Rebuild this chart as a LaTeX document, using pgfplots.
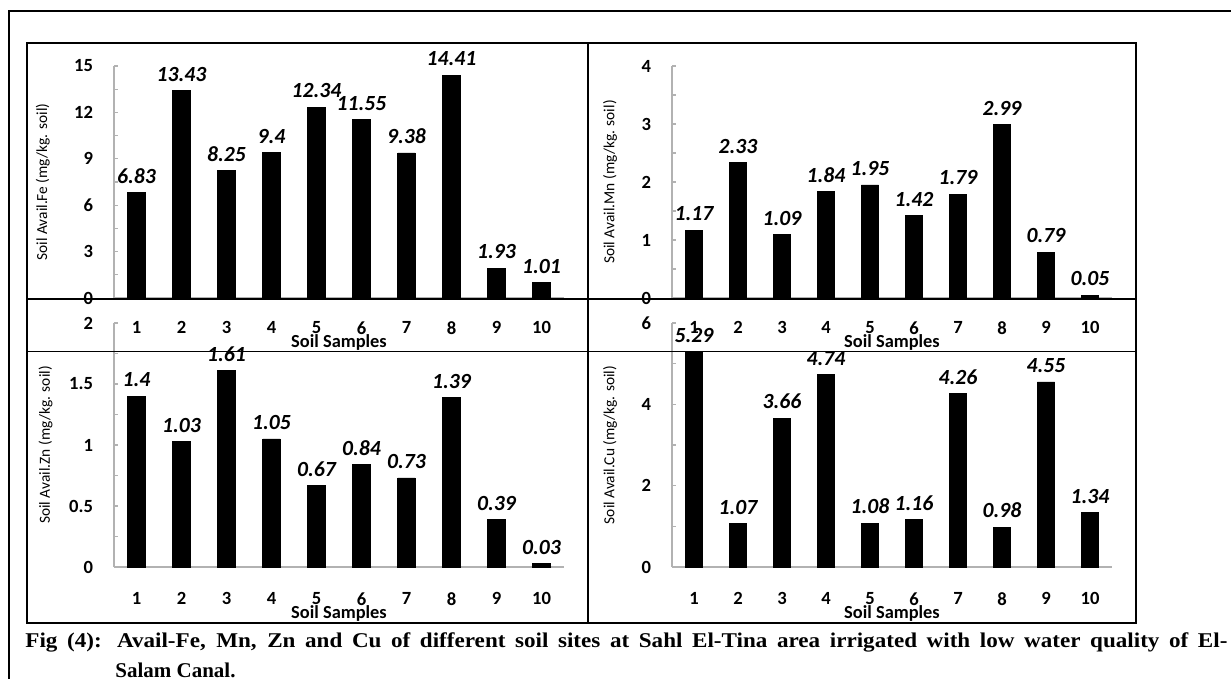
\documentclass[border=0pt]{standalone}
\usepackage{pgfplots}
\pgfplotsset{compat=1.18}
\usepackage{fontspec}
\setmainfont{Carlito}
\newfontfamily\capfont{Liberation Serif}

\pgfplotsset{
  panel/.style={
    scale only axis, clip=false,
    xmin=0.5, xmax=10.5,
    axis x line*=bottom, axis y line*=left,
    axis line style={draw=gray!60, line width=0.6pt},
    xtick={1,...,10}, xtick style={draw=none},
    minor y tick num=1,
    ytick style={draw=gray!60, line width=0.6pt},
    minor y tick style={draw=gray!60, line width=0.6pt},
    tick align=inside,
    major tick length=2pt, minor tick length=2pt,
    ticklabel style={font=\fontsize{9.3}{10}\selectfont\bfseries},
    yticklabel style={xshift=-7pt},
    xticklabel style={inner sep=1pt},
    ylabel style={anchor=center, font=\fontsize{7.7}{9}\selectfont},
    xlabel style={at={(axis description cs:0.5,0)}, anchor=center, inner sep=0pt, font=\fontsize{9.2}{10}\selectfont\bfseries},
    xlabel={Soil Samples},
    ybar, bar width=8.7pt,
    nodes near coords, point meta=explicit symbolic,
    every node near coord/.append style={font=\fontsize{10.8}{12}\selectfont\bfseries\itshape, yshift=1pt, text=black},
    /pgf/number format/assume math mode=true,
  },
}

\begin{document}
\begin{tikzpicture}
\useasboundingbox (0,0) rectangle (615.5pt,-339.5pt);

% Fe
\begin{axis}[panel, at={(57pt,-149pt)}, anchor=south west, width=225pt, height=116pt,
  ymin=0, ymax=15, ytick={0,3,...,15},
  ylabel={Soil Avail.Fe (mg/kg. soil)},
  ylabel style={at={(axis description cs:-0.158,0.5)}},
  xticklabel style={yshift=-8.5pt},
  xlabel style={yshift=-22pt}]
\addplot[fill=black, draw=black] coordinates {
(1,6.83)[6.83] (2,13.43)[13.43] (3,8.25)[8.25] (4,9.4)[9.4] (5,12.34)[12.34]
(6,11.55)[11.55] (7,9.38)[9.38] (8,14.41)[14.41] (9,1.93)[1.93] (10,1.01)[1.01]};
\end{axis}

% Mn
\begin{axis}[panel, at={(336pt,-149pt)}, anchor=south west, width=220pt, height=116pt,
  ymin=0, ymax=4, ytick={0,1,...,4},
  ylabel={Soil Avail.Mn (mg/kg. soil)},
  ylabel style={at={(axis description cs:-0.141,0.5)}},
  xticklabel style={yshift=-8.5pt},
  xlabel style={yshift=-22pt}]
\addplot[fill=black, draw=black] coordinates {
(1,1.17)[1.17] (2,2.33)[2.33] (3,1.09)[1.09] (4,1.84)[1.84] (5,1.95)[1.95]
(6,1.42)[1.42] (7,1.79)[1.79] (8,2.99)[2.99] (9,0.79)[0.79] (10,0.05)[0.05]};
\end{axis}

% Zn
\begin{axis}[panel, at={(57pt,-283.5pt)}, anchor=south west, width=225pt, height=122pt,
  ymin=0, ymax=2, ytick={0,0.5,1,1.5,2},
  ylabel={Soil Avail.Zn (mg/kg. soil)},
  ylabel style={at={(axis description cs:-0.152,0.5)}},
  xticklabel style={yshift=-9.5pt},
  xlabel style={yshift=-23pt}]
\addplot[fill=black, draw=black] coordinates {
(1,1.4)[1.4] (2,1.03)[1.03] (3,1.61)[1.61] (4,1.05)[1.05] (5,0.67)[0.67]
(6,0.84)[0.84] (7,0.73)[0.73] (8,1.39)[1.39] (9,0.39)[0.39] (10,0.03)[0.03]};
\end{axis}

% Cu
\begin{axis}[panel, at={(336pt,-283.5pt)}, anchor=south west, width=220pt, height=122pt,
  ymin=0, ymax=6, ytick={0,2,4,6},
  ylabel={Soil Avail.Cu (mg/kg. soil)},
  ylabel style={at={(axis description cs:-0.141,0.5)}},
  xticklabel style={yshift=-9.5pt},
  xlabel style={yshift=-23pt}]
\addplot[fill=black, draw=black] coordinates {
(1,5.29)[5.29] (2,1.07)[1.07] (3,3.66)[3.66] (4,4.74)[4.74] (5,1.08)[1.08]
(6,1.16)[1.16] (7,4.26)[4.26] (8,0.98)[0.98] (9,4.55)[4.55] (10,1.34)[1.34]};
\end{axis}

% frames
\draw[line width=1.25pt] (4.5pt,-345pt) -- (4.5pt,-5.5pt) -- (620pt,-5.5pt);
\draw[line width=0.8pt] (13.5pt,-21.5pt) rectangle (568pt,-311.5pt);
\draw[line width=1pt] (294pt,-21.5pt) -- (294pt,-311.5pt);
\draw[line width=1pt] (13.5pt,-149.5pt) -- (568pt,-149.5pt);
\draw[line width=0.5pt] (13.5pt,-175.5pt) -- (568pt,-175.5pt);

% caption
\node[anchor=west, inner sep=0pt, font=\capfont\bfseries\fontsize{10.5}{12}\selectfont] at (12.5pt,-321pt)
  {\scalebox{1.1}[1]{\makebox[546.4pt][s]{Fig (4): Avail-Fe, Mn, Zn and Cu of different soil sites at Sahl El-Tina area irrigated with low water quality of El-}}};
\node[anchor=west, inner sep=0pt, font=\capfont\bfseries\fontsize{10.5}{12}\selectfont] at (57.5pt,-335pt)
  {Salam Canal.};
\end{tikzpicture}
\end{document}
